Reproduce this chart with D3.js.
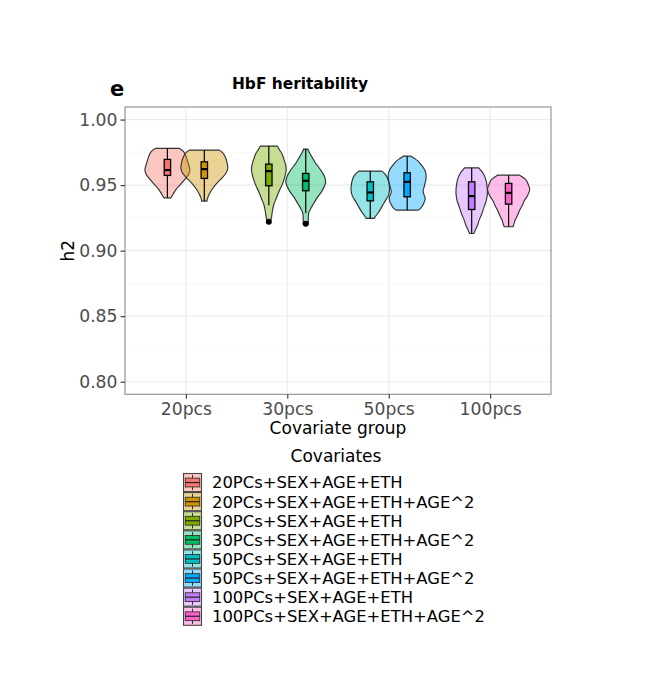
<!DOCTYPE html>
<html>
<head>
<meta charset="utf-8">
<script src="https://cdn.jsdelivr.net/npm/d3@7"></script>
<style>
  body { margin: 0; background: #fff; }
  text { font-family: "DejaVu Sans", sans-serif; }
</style>
</head>
<body>
<svg id="chart" width="651" height="700"></svg>
<script>
const groups = ["20pcs", "30pcs", "50pcs", "100pcs"];
const covariates = [
  "20PCs+SEX+AGE+ETH", "20PCs+SEX+AGE+ETH+AGE^2",
  "30PCs+SEX+AGE+ETH", "30PCs+SEX+AGE+ETH+AGE^2",
  "50PCs+SEX+AGE+ETH", "50PCs+SEX+AGE+ETH+AGE^2",
  "100PCs+SEX+AGE+ETH", "100PCs+SEX+AGE+ETH+AGE^2"
];
const covGroup = ["20pcs", "20pcs", "30pcs", "30pcs", "50pcs", "50pcs", "100pcs", "100pcs"];
const colors = ["#F8766D", "#CD9600", "#7CAE00", "#00BE67", "#00BFC4", "#00A9FF", "#C77CFF", "#FF61CC"];
const yTicks = [0.80, 0.85, 0.90, 0.95, 1.00];
const yMinor = [0.825, 0.875, 0.925, 0.975];

// violin outlines: h2 values (ascending) and relative density
const violinH2 = [
  [0.9403, 0.943, 0.947, 0.951, 0.955, 0.958, 0.9615, 0.966, 0.970, 0.974, 0.9765, 0.978],
  [0.9378, 0.9395, 0.943, 0.947, 0.951, 0.955, 0.959, 0.9627, 0.968, 0.972, 0.975, 0.9767],
  [0.922, 0.925, 0.930, 0.935, 0.940, 0.945, 0.950, 0.955, 0.9615, 0.966, 0.970, 0.974, 0.977, 0.9798],
  [0.9205, 0.925, 0.929, 0.932, 0.936, 0.941, 0.946, 0.9525, 0.957, 0.9615, 0.9665, 0.971, 0.975, 0.9775],
  [0.9246, 0.927, 0.930, 0.934, 0.938, 0.942, 0.9462, 0.950, 0.9535, 0.9565, 0.959, 0.9607],
  [0.9309, 0.9325, 0.935, 0.9398, 0.9449, 0.949, 0.9535, 0.9576, 0.9615, 0.9655, 0.9685, 0.9705, 0.9721],
  [0.9131, 0.9156, 0.919, 0.9233, 0.928, 0.9334, 0.938, 0.9437, 0.9513, 0.9555, 0.9589, 0.9615, 0.9632],
  [0.9182, 0.921, 0.9233, 0.927, 0.9309, 0.9345, 0.9385, 0.942, 0.9467, 0.950, 0.9538, 0.9558, 0.9576]
];
const violinDensity = [
  [0.15, 0.24, 0.38, 0.58, 0.77, 0.90, 0.96, 0.90, 0.83, 0.75, 0.64, 0.51],
  [0.11, 0.13, 0.21, 0.34, 0.51, 0.73, 0.92, 1.00, 0.96, 0.88, 0.77, 0.64],
  [0.06, 0.11, 0.15, 0.21, 0.32, 0.43, 0.56, 0.66, 0.74, 0.71, 0.64, 0.56, 0.45, 0.36],
  [0.11, 0.11, 0.13, 0.21, 0.34, 0.51, 0.71, 0.85, 0.79, 0.64, 0.43, 0.28, 0.15, 0.09],
  [0.17, 0.26, 0.38, 0.51, 0.64, 0.77, 0.82, 0.81, 0.77, 0.71, 0.60, 0.49],
  [0.47, 0.58, 0.68, 0.77, 0.68, 0.73, 0.79, 0.81, 0.75, 0.60, 0.45, 0.30, 0.17],
  [0.09, 0.15, 0.24, 0.32, 0.43, 0.53, 0.62, 0.67, 0.64, 0.58, 0.49, 0.38, 0.30],
  [0.19, 0.24, 0.28, 0.38, 0.47, 0.58, 0.68, 0.81, 0.90, 0.85, 0.75, 0.62, 0.47]
];

// boxplot stats
const whiskerLow = [0.9403, 0.9378, 0.9347, 0.9286, 0.9246, 0.9309, 0.9131, 0.9182];
const q1 = [0.9574, 0.9551, 0.9495, 0.9457, 0.9380, 0.9411, 0.9314, 0.9355];
const median = [0.9615, 0.9622, 0.9607, 0.9533, 0.9444, 0.9525, 0.9416, 0.9441];
const q3 = [0.9696, 0.9678, 0.9660, 0.9589, 0.9525, 0.9594, 0.9525, 0.9513];
const whiskerHigh = [0.9780, 0.9767, 0.9798, 0.9775, 0.9607, 0.9721, 0.9632, 0.9576];
const outliers = [[], [], [0.922], [0.9205], [], [], [], []];

const svg = d3.select("#chart");
const panel = { left: 125, right: 551, top: 107, bottom: 394.3 };

const x = d3.scalePoint().domain(groups).range([panel.left, panel.right]).padding(0.6);
const step = x.step();
const y = d3.scaleLinear().domain([0.7904, 1.0096]).range([panel.bottom, panel.top]);
const w = d3.scaleLinear().domain([0, 1]).range([0, step * 0.231]);

const dodge = step * 0.182;
const centerOf = i => x(covGroup[i]) + (i % 2 === 0 ? -dodge : dodge);
const boxHalf = 3.2;

// grid
const grid = svg.append("g");
grid.selectAll(".minor").data(yMinor).join("line")
  .attr("x1", panel.left).attr("x2", panel.right)
  .attr("y1", d => y(d)).attr("y2", d => y(d))
  .attr("stroke", "#F4F4F4").attr("stroke-width", 0.6);
grid.selectAll(".major-y").data(yTicks).join("line")
  .attr("x1", panel.left).attr("x2", panel.right)
  .attr("y1", d => y(d)).attr("y2", d => y(d))
  .attr("stroke", "#EBEBEB").attr("stroke-width", 1.1);
grid.selectAll(".major-x").data(groups).join("line")
  .attr("x1", d => x(d)).attr("x2", d => x(d))
  .attr("y1", panel.top).attr("y2", panel.bottom)
  .attr("stroke", "#EBEBEB").attr("stroke-width", 1.1);

// violins
const violinArea = i => d3.area()
  .curve(d3.curveCatmullRom.alpha(0.5))
  .y(d => y(d[0]))
  .x0(d => centerOf(i) - w(d[1]))
  .x1(d => centerOf(i) + w(d[1]));

svg.append("g").selectAll("path")
  .data(covariates.map((c, i) => i))
  .join("path")
  .attr("d", i => violinArea(i)(d3.zip(violinH2[i], violinDensity[i])))
  .attr("fill", i => colors[i])
  .attr("fill-opacity", 0.42)
  .attr("stroke", "#333")
  .attr("stroke-width", 1.15);

// boxplots
const boxes = svg.append("g").selectAll("g")
  .data(covariates.map((c, i) => i))
  .join("g");

boxes.append("line")
  .attr("x1", i => centerOf(i)).attr("x2", i => centerOf(i))
  .attr("y1", i => y(whiskerHigh[i])).attr("y2", i => y(q3[i]))
  .attr("stroke", "#000").attr("stroke-width", 1.2);
boxes.append("line")
  .attr("x1", i => centerOf(i)).attr("x2", i => centerOf(i))
  .attr("y1", i => y(q1[i])).attr("y2", i => y(whiskerLow[i]))
  .attr("stroke", "#000").attr("stroke-width", 1.2);
boxes.append("rect")
  .attr("x", i => centerOf(i) - boxHalf)
  .attr("width", boxHalf * 2)
  .attr("y", i => y(q3[i]))
  .attr("height", i => y(q1[i]) - y(q3[i]))
  .attr("fill", i => colors[i])
  .attr("stroke", "#000").attr("stroke-width", 1.3);
boxes.append("line")
  .attr("x1", i => centerOf(i) - boxHalf).attr("x2", i => centerOf(i) + boxHalf)
  .attr("y1", i => y(median[i])).attr("y2", i => y(median[i]))
  .attr("stroke", "#000").attr("stroke-width", 2.2);
boxes.selectAll("circle")
  .data(i => outliers[i].map(v => ({ i, v })))
  .join("circle")
  .attr("cx", d => centerOf(d.i))
  .attr("cy", d => y(d.v))
  .attr("r", 3)
  .attr("fill", "#000");

// panel border
svg.append("rect")
  .attr("x", panel.left).attr("y", panel.top)
  .attr("width", panel.right - panel.left).attr("height", panel.bottom - panel.top)
  .attr("fill", "none").attr("stroke", "#8C8C8C").attr("stroke-width", 1.1);

// axes
const yAxis = svg.append("g")
  .attr("transform", `translate(${panel.left},0)`)
  .call(d3.axisLeft(y).tickValues(yTicks).tickFormat(d3.format(".2f")).tickSizeOuter(0).tickSize(4.5).tickPadding(3));
const xAxis = svg.append("g")
  .attr("transform", `translate(0,${panel.bottom})`)
  .call(d3.axisBottom(x).tickSizeOuter(0).tickSize(4.5).tickPadding(4));
[yAxis, xAxis].forEach(a => {
  a.select(".domain").remove();
  a.selectAll(".tick line").attr("stroke", "#333").attr("stroke-width", 1.1);
  a.selectAll(".tick text")
    .attr("fill", "#4D4D4D")
    .style("font-family", "DejaVu Sans")
    .style("font-size", "17.2px");
});

// titles
svg.append("text")
  .attr("x", 110).attr("y", 96)
  .style("font-size", "21px").style("font-weight", "bold")
  .text("e");
svg.append("text")
  .attr("x", 300).attr("y", 89).attr("text-anchor", "middle")
  .style("font-size", "15.4px").style("font-weight", "bold")
  .text("HbF heritability");
svg.append("text")
  .attr("x", (panel.left + panel.right) / 2).attr("y", 434).attr("text-anchor", "middle")
  .style("font-size", "17px")
  .text("Covariate group");
svg.append("text")
  .attr("transform", `translate(74,${(panel.top + panel.bottom) / 2}) rotate(-90)`)
  .attr("text-anchor", "middle")
  .style("font-size", "17px")
  .text("h2");

// legend
const legend = svg.append("g");
legend.append("text")
  .attr("x", 336).attr("y", 462).attr("text-anchor", "middle")
  .style("font-size", "17px")
  .text("Covariates");

const keyX = 183, keyY = 473, keyW = 19, keyH = 19.1;
const keys = legend.selectAll(".key")
  .data(covariates)
  .join("g")
  .attr("transform", (d, i) => `translate(${keyX},${keyY + i * keyH})`);
keys.append("rect")
  .attr("x", 0.5).attr("y", 0.5).attr("width", keyW - 1).attr("height", keyH - 1)
  .attr("fill", (d, i) => colors[i]).attr("fill-opacity", 0.42)
  .attr("stroke", "#444").attr("stroke-width", 1.1);
keys.append("line")
  .attr("x1", keyW / 2).attr("x2", keyW / 2)
  .attr("y1", keyH * 0.1).attr("y2", keyH * 0.9)
  .attr("stroke", "#000").attr("stroke-width", 0.8);
keys.append("rect")
  .attr("x", keyW * 0.12).attr("y", keyH * 0.27)
  .attr("width", keyW * 0.76).attr("height", keyH * 0.46)
  .attr("fill", (d, i) => colors[i])
  .attr("stroke", "#333").attr("stroke-width", 0.9);
keys.append("line")
  .attr("x1", keyW * 0.12).attr("x2", keyW * 0.88)
  .attr("y1", keyH / 2).attr("y2", keyH / 2)
  .attr("stroke", "#222").attr("stroke-width", 1.2);
keys.append("text")
  .attr("x", 29).attr("y", keyH / 2).attr("dy", "0.36em")
  .style("font-size", "16.4px")
  .text(d => d);
</script>
</body>
</html>
